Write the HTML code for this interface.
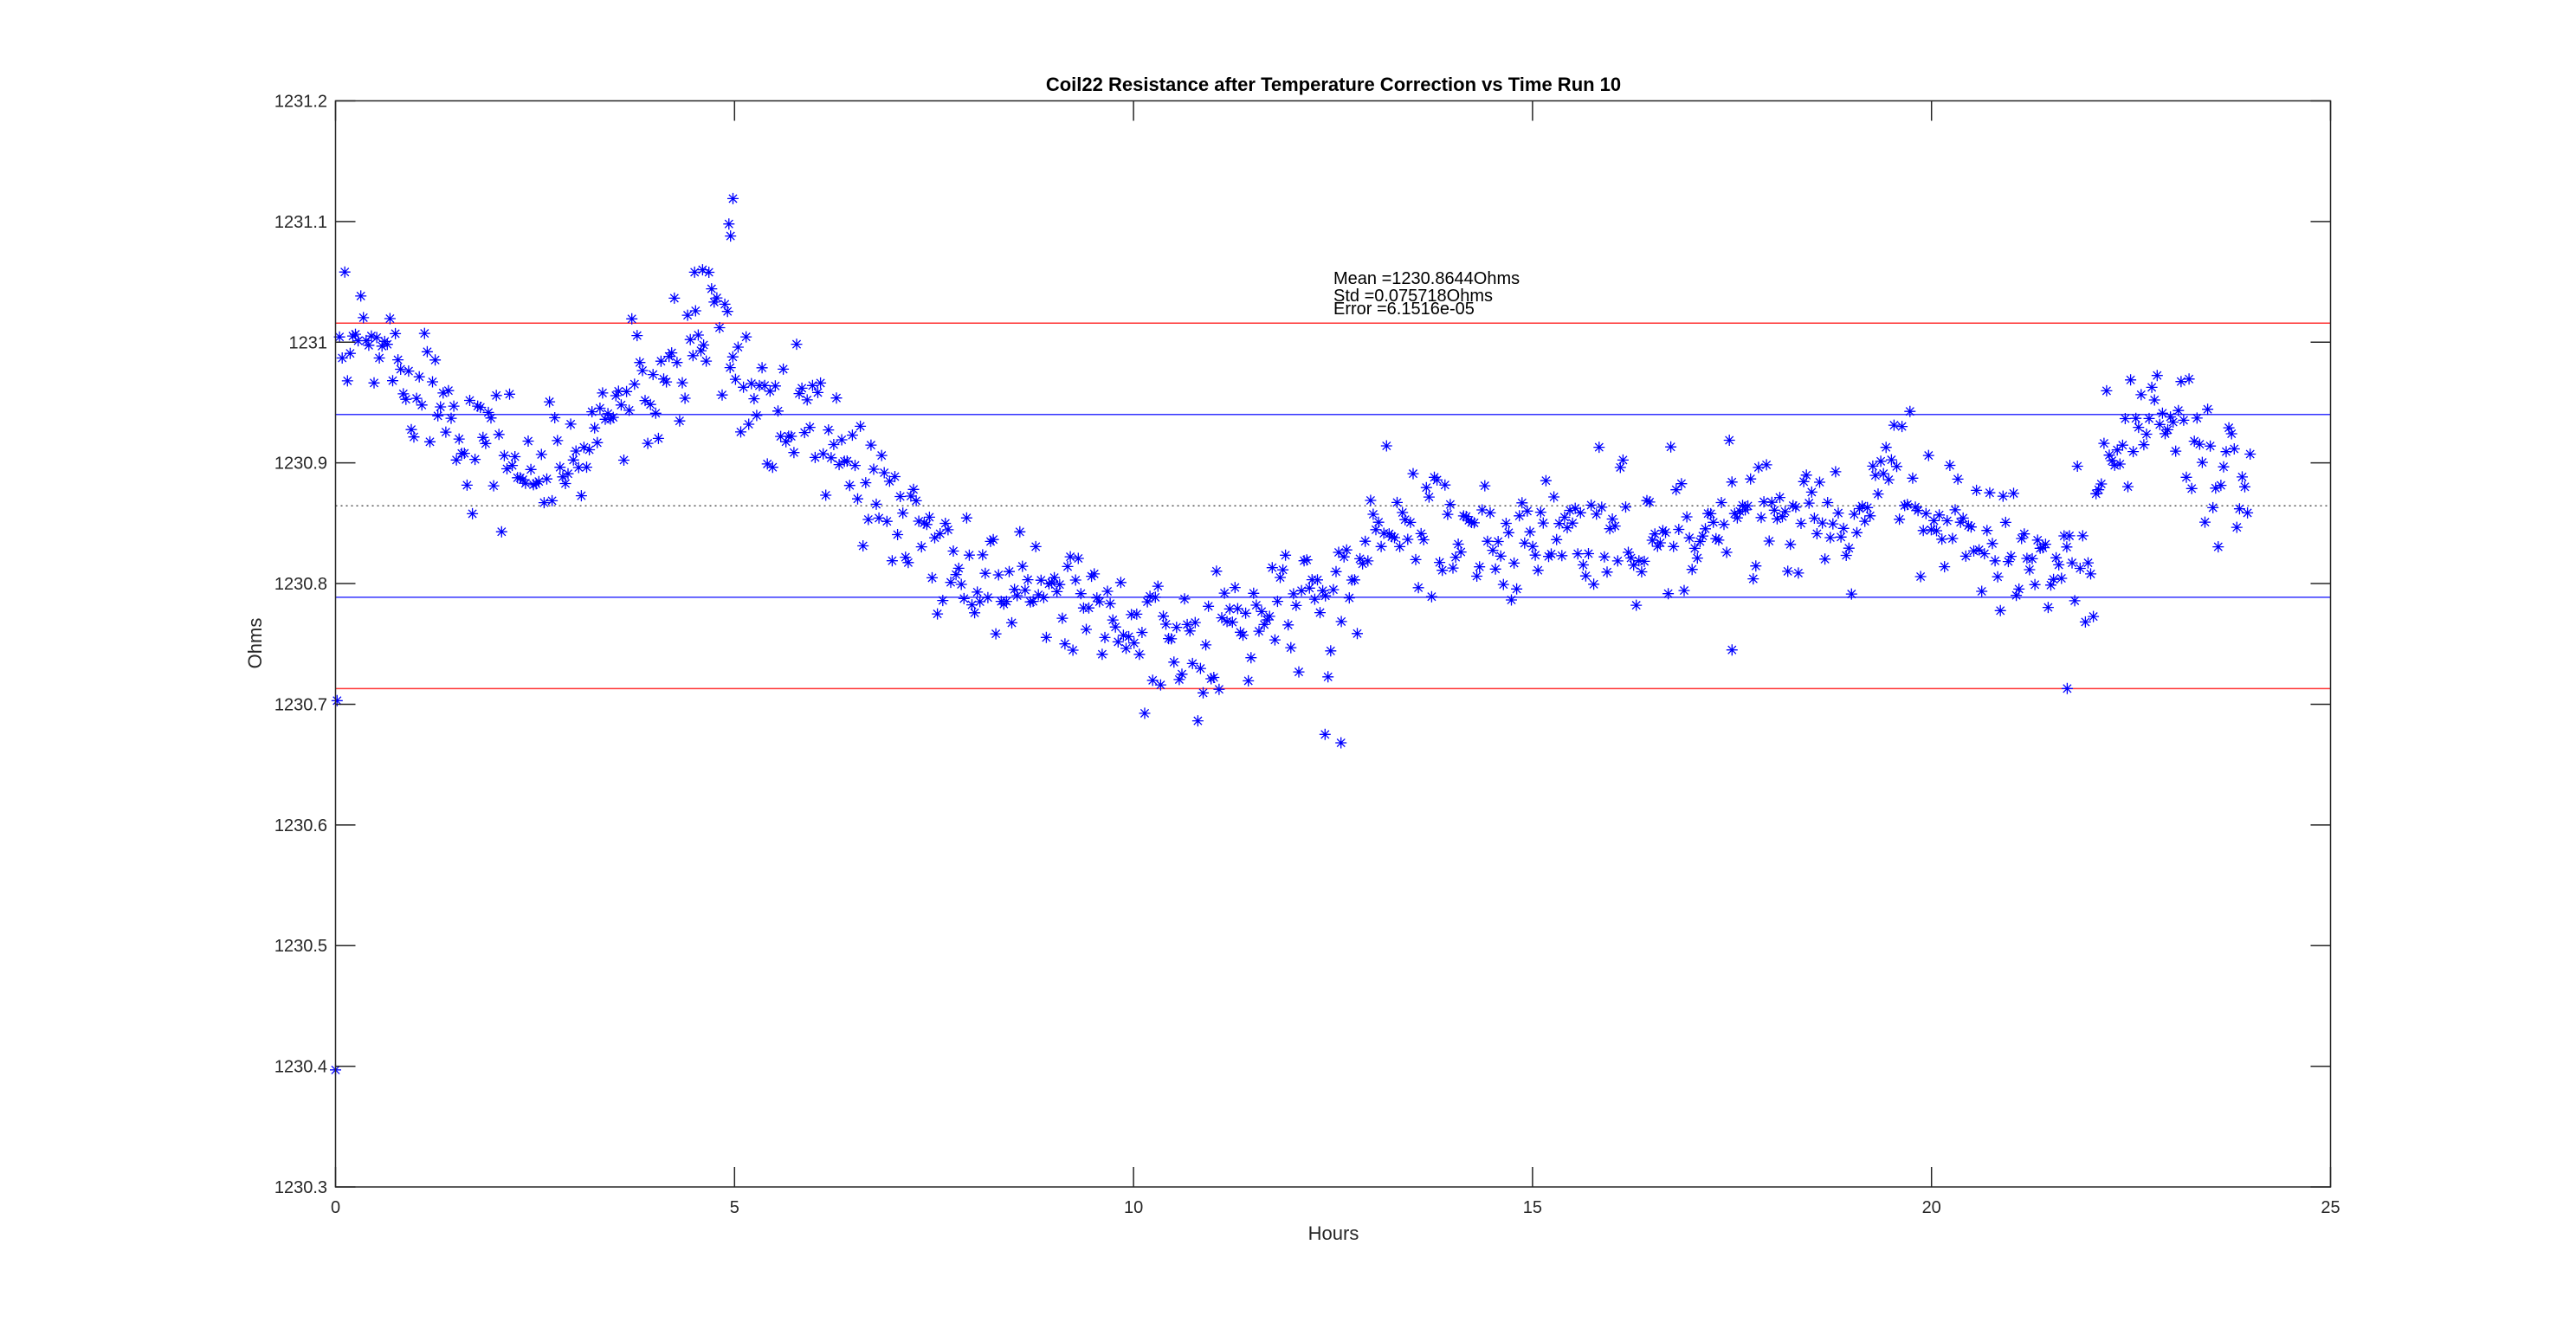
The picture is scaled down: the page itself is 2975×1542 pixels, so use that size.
<!DOCTYPE html>
<html><head><meta charset="utf-8"><style>
html,body{margin:0;padding:0;background:#fff;}
svg{display:block;font-family:"Liberation Sans",Arial,sans-serif;}
</style></head><body>
<svg id="s" width="2975" height="1542" viewBox="0 0 2975 1542" xmlns="http://www.w3.org/2000/svg">
<rect width="2975" height="1542" fill="#fff"/>
<text x="1540" y="105" font-size="22" font-weight="bold" text-anchor="middle" fill="#000">Coil22 Resistance after Temperature Correction vs Time Run 10</text>
<g id="lines"></g>
<path id="pts" fill="none" stroke="#0000ff" stroke-width="1.3"/>
<rect x="387.5" y="116.5" width="2304" height="1254.5" fill="none" stroke="#262626" stroke-width="1.5"/>
<g id="ticks" stroke="#262626" stroke-width="1.5"></g>
<g id="labels" font-size="20" fill="#262626"></g>
<text x="1540" y="1432" font-size="22" text-anchor="middle" fill="#262626">Hours</text>
<text transform="translate(302,743) rotate(-90)" font-size="22" text-anchor="middle" fill="#262626">Ohms</text>
<text x="1540" y="328" font-size="20" fill="#000">Mean =1230.8644Ohms</text>
<text x="1540" y="348" font-size="20" fill="#000">Std =0.075718Ohms</text>
<text x="1540" y="363" font-size="20" fill="#000">Error =6.1516e-05</text>
</svg>
<script>
var L=387.5,R=2691.5,T=116.5,B=1371;
function X(t){return L+(R-L)*t/25;}
function Y(v){return T+(B-T)*(1231.2-v)/0.9;}
var NS="http://www.w3.org/2000/svg";
function el(p,n,a,txt){var e=document.createElementNS(NS,n);for(var k in a)e.setAttribute(k,a[k]);if(txt!==undefined)e.textContent=txt;p.appendChild(e);return e;}
var lg=document.getElementById('lines');
var m=1230.8644,s=0.075718;
[[m+2*s,'#ff0000'],[m-2*s,'#ff0000'],[m+s,'#0000ff'],[m-s,'#0000ff']].forEach(function(a){el(lg,'line',{x1:L,x2:R,y1:Y(a[0]),y2:Y(a[0]),stroke:a[1],'stroke-width':1.5,'stroke-opacity':0.8});});
el(lg,'line',{x1:L,x2:R,y1:Y(m),y2:Y(m),stroke:'#555','stroke-width':1.5,'stroke-dasharray':'2,4'});
var tg=document.getElementById('ticks'),lb=document.getElementById('labels');
for(var i=0;i<=5;i++){var x=X(i*5);el(tg,'line',{x1:x,x2:x,y1:T,y2:T+23});el(tg,'line',{x1:x,x2:x,y1:B,y2:B-23});el(lb,'text',{x:x,y:1401,'text-anchor':'middle'},String(i*5));}
var yl=['1230.3','1230.4','1230.5','1230.6','1230.7','1230.8','1230.9','1231','1231.1','1231.2'];
for(var j=0;j<yl.length;j++){var v=1230.3+j*0.1,y=Y(v);el(tg,'line',{x1:L,x2:L+23,y1:y,y2:y});el(tg,'line',{x1:R,x2:R-23,y1:y,y2:y});el(lb,'text',{x:378,y:y+7,'text-anchor':'end'},yl[j]);}
var seed=12345;function rnd(){seed=(seed*16807)%2147483647;return seed/2147483647;}
function gauss(){var u=rnd()||1e-9,w=rnd();return Math.sqrt(-2*Math.log(u))*Math.cos(2*Math.PI*w);}
var K=[[0,0.97],[0.3,1.0],[1,0.98],[1.5,0.94],[2.5,0.89],[3,0.9],[3.5,0.95],[4.3,0.97],[4.8,1.0],[5.1,0.96],[6,0.93],[6.7,0.88],[7.3,0.83],[8,0.80],[9,0.79],[10,0.765],[11,0.76],[12,0.78],[12.7,0.82],[13.3,0.855],[15,0.84],[16,0.85],[17,0.84],[18,0.86],[19,0.855],[19.5,0.90],[20,0.86],[21,0.83],[21.5,0.80],[22,0.82],[22.3,0.92],[22.8,0.95],[23.3,0.91],[24,0.88]];
function trend(t){for(var i=0;i<K.length-1;i++){if(t<=K[i+1][0]){var f=(t-K[i][0])/(K[i+1][0]-K[i][0]);return 1230+K[i][1]+f*(K[i+1][1]-K[i][1]);}}return 1230.88;}
var d='',r=6.5,r2=4.6;
function star(t,v){var x=X(t),y=Y(v);d+='M'+(x-r).toFixed(1)+' '+y.toFixed(1)+'h'+2*r+'M'+x.toFixed(1)+' '+(y-r).toFixed(1)+'v'+2*r+'M'+(x-r2).toFixed(1)+' '+(y-r2).toFixed(1)+'l'+2*r2+' '+2*r2+'M'+(x-r2).toFixed(1)+' '+(y+r2).toFixed(1)+'l'+2*r2+' '+(-2*r2);}
star(0,1230.397);star(0.02,1230.703);
for(var t=0.05;t<=24;t+=0.0333){var v=trend(t)+gauss()*0.027;if(t>4.5&&t<5.0)v+=rnd()*0.05;star(t,v);}
star(4.93,1231.098);star(4.95,1231.088);star(4.98,1231.119);star(4.6,1231.06);star(4.5,1231.058);
star(12.4,1230.675);star(12.6,1230.668);star(17.5,1230.745);star(21.7,1230.713);
document.getElementById('pts').setAttribute('d',d);
</script>
</body></html>
